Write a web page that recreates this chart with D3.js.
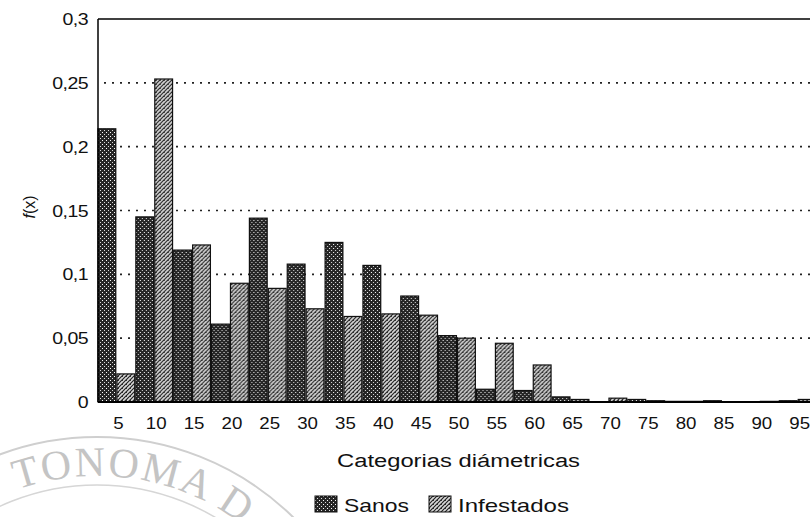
<!DOCTYPE html>
<html>
<head>
<meta charset="utf-8">
<script src="https://cdn.jsdelivr.net/npm/d3@7"></script>
<style>
  body { margin: 0; background: #fff; }
  text { font-family: "Liberation Sans", Arial, sans-serif; }
  text.seal { font-family: "Liberation Serif", "DejaVu Serif", serif; }
</style>
</head>
<body>
<div id="chart"></div>
<script>
// diameter classes
var categories = ['5','10','15','20','25','30','35','40','45','50','55','60','65','70','75','80','85','90','95'];
var sanos      = [0.214,0.145,0.119,0.061,0.144,0.108,0.125,0.107,0.083,0.052,0.010,0.009,0.004,0.000,0.002,0.0005,0.001,0.000,0.001];
var infestados = [0.022,0.253,0.123,0.093,0.089,0.073,0.067,0.069,0.068,0.050,0.046,0.029,0.002,0.003,0.001,0.0005,0.000,0.0005,0.002];
var y_ticks    = [0,0.05,0.1,0.15,0.2,0.25,0.3];
var series     = ['Sanos','Infestados'];

var chart_width  = 810;
var chart_height = 517;
var left = 98, top_y = 19, bottom_y = 402, right = 816;

var svg = d3.select('#chart')
    .append('svg')
    .attr('width', chart_width)
    .attr('height', chart_height);

// textures for the scanned fills
var defs = svg.append('defs');
var p1 = defs.append('pattern').attr('id','pat_sanos')
    .attr('patternUnits','userSpaceOnUse').attr('width',4).attr('height',4);
p1.append('rect').attr('width',4).attr('height',4).attr('fill','#262626');
p1.append('rect').attr('x',0).attr('y',0).attr('width',1).attr('height',1).attr('fill','#fff');
p1.append('rect').attr('x',2).attr('y',2).attr('width',1).attr('height',1).attr('fill','#ddd');

var p2 = defs.append('pattern').attr('id','pat_inf')
    .attr('patternUnits','userSpaceOnUse').attr('width',4).attr('height',4);
p2.append('rect').attr('width',4).attr('height',4).attr('fill','#d8d8d8');
p2.append('path').attr('d','M0,4 L4,0 M-1,1 L1,-1 M3,5 L5,3')
    .attr('stroke','#222').attr('stroke-width',1.2);
p2.append('rect').attr('x',0).attr('y',0).attr('width',1).attr('height',1).attr('fill','#333');

// watermark seal (scan artifact, bottom left)
var seal = svg.append('g');
seal.append('circle').attr('cx',97).attr('cy',717).attr('r',280)
    .attr('fill','none').attr('stroke','#cfcfcf').attr('stroke-width',2);
seal.append('circle').attr('cx',97).attr('cy',717).attr('r',232)
    .attr('fill','none').attr('stroke','#d6d6d6').attr('stroke-width',1.5);
defs.append('path').attr('id','seal_arc')
    .attr('d','M -144,717 A 241 241 0 0 1 338,717');
seal.append('text')
    .attr('class','seal')
    .attr('font-size',42).attr('fill','#c4c4c4')
    .attr('letter-spacing',2)
    .append('textPath').attr('href','#seal_arc').attr('startOffset',297)
    .text('TONOMA D');

var x = d3.scaleBand().domain(categories).range([left, right]).paddingInner(0.03).paddingOuter(0);
var x_inner = d3.scaleBand().domain(series).range([0, x.bandwidth()]).paddingInner(0.06);
var y = d3.scaleLinear().domain([0, 0.3]).range([bottom_y, top_y]);

// dotted gridlines
svg.selectAll('.grid')
    .data(y_ticks.filter(function(d){ return d > 0 && d < 0.3; }))
    .enter()
    .append('line')
    .attr('x1', left + 6).attr('x2', chart_width)
    .attr('y1', function(d){ return y(d); })
    .attr('y2', function(d){ return y(d); })
    .attr('stroke', '#222')
    .attr('stroke-width', 1.6)
    .attr('stroke-dasharray', '2,6');

// bars
var groups = svg.selectAll('.grp')
    .data(categories)
    .enter()
    .append('g')
    .attr('transform', function(d){ return 'translate(' + x(d) + ',0)'; });

groups.append('rect')
    .attr('x', x_inner('Sanos'))
    .attr('y', function(d, i){ return y(sanos[i]); })
    .attr('width', x_inner.bandwidth())
    .attr('height', function(d, i){ return bottom_y - y(sanos[i]); })
    .attr('fill', 'url(#pat_sanos)')
    .attr('stroke', '#111').attr('stroke-width', 1.2);

groups.append('rect')
    .attr('x', x_inner('Infestados'))
    .attr('y', function(d, i){ return y(infestados[i]); })
    .attr('width', x_inner.bandwidth())
    .attr('height', function(d, i){ return bottom_y - y(infestados[i]); })
    .attr('fill', 'url(#pat_inf)')
    .attr('stroke', '#111').attr('stroke-width', 1.2);

// frame: left, top, bottom
svg.append('line').attr('x1', left).attr('x2', left).attr('y1', top_y).attr('y2', bottom_y)
    .attr('stroke', '#000').attr('stroke-width', 1.5);
svg.append('line').attr('x1', left).attr('x2', chart_width).attr('y1', top_y).attr('y2', top_y)
    .attr('stroke', '#000').attr('stroke-width', 1.5);
svg.append('line').attr('x1', left).attr('x2', chart_width).attr('y1', bottom_y).attr('y2', bottom_y)
    .attr('stroke', '#000').attr('stroke-width', 2);

// y tick labels (scan is a bit wide, so stretch horizontally)
var fmt = function(d){ return d === 0 ? '0' : String(d).replace('.', ','); };
svg.selectAll('.ylab')
    .data(y_ticks)
    .enter()
    .append('text')
    .text(fmt)
    .attr('transform', function(d){ return 'translate(88,' + (y(d) + 6) + ') scale(1.15,1)'; })
    .attr('font-size', 17)
    .attr('text-anchor', 'end')
    .attr('letter-spacing', -0.5)
    .attr('fill', '#111');

// x tick labels
svg.selectAll('.xlab')
    .data(categories)
    .enter()
    .append('text')
    .text(function(d){ return d; })
    .attr('transform', function(d){ return 'translate(' + (x(d) + x.bandwidth() / 2 + 2) + ',429) scale(1.1,1)'; })
    .attr('font-size', 17)
    .attr('text-anchor', 'middle')
    .attr('fill', '#111');

// axis titles
svg.append('text')
    .attr('transform', 'translate(35,207) rotate(-90)')
    .attr('text-anchor', 'middle')
    .attr('font-size', 16)
    .attr('fill', '#111')
    .html('<tspan font-style="italic">f</tspan>(x)');

svg.append('text')
    .text('Categorias diámetricas')
    .attr('x', 337).attr('y', 467)
    .attr('font-size', 18)
    .attr('textLength', 243)
    .attr('lengthAdjust', 'spacingAndGlyphs')
    .attr('fill', '#111');

// legend
var legend_x   = [315, 429];
var legend_len = [65, 111];
var legend = svg.selectAll('.leg')
    .data(series)
    .enter()
    .append('g')
    .attr('transform', function(d, i){ return 'translate(' + legend_x[i] + ',496)'; });
legend.append('rect')
    .attr('width', 22).attr('height', 16)
    .attr('fill', function(d, i){ return i === 0 ? 'url(#pat_sanos)' : 'url(#pat_inf)'; })
    .attr('stroke', '#111');
legend.append('text')
    .text(function(d){ return d; })
    .attr('x', 29).attr('y', 16)
    .attr('font-size', 19)
    .attr('textLength', function(d, i){ return legend_len[i]; })
    .attr('lengthAdjust', 'spacingAndGlyphs')
    .attr('fill', '#111');
</script>
</body>
</html>
